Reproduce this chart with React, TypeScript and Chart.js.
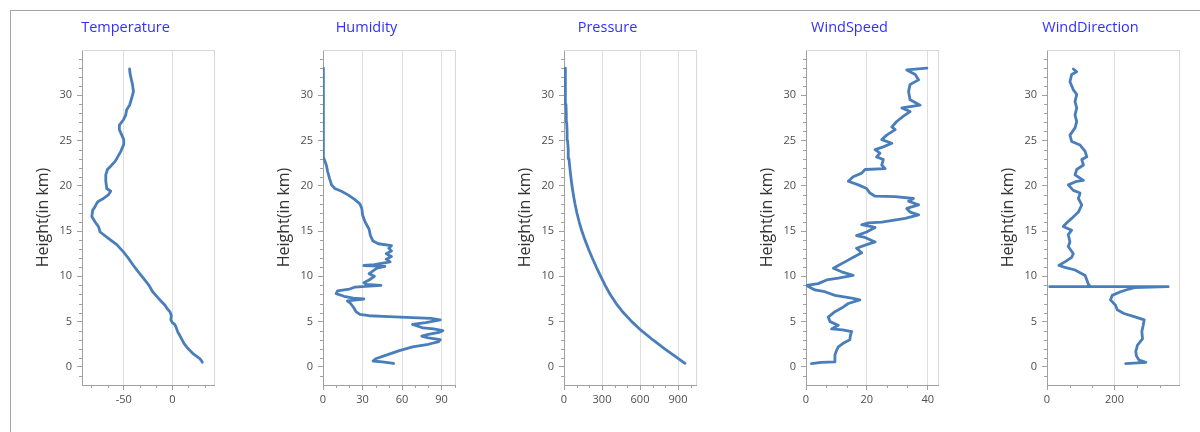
import React, { useEffect, useRef } from "react";
import { Chart, registerables } from "chart.js";

Chart.register(...registerables);

// ---------- data ----------
const panelTitles = ["Temperature", "Humidity", "Pressure", "WindSpeed", "WindDirection"];
const heightTicks = [0, 5, 10, 15, 20, 25, 30];
const heightRange = [-2, 35];

const tempHeight = [0.5, 0.7, 0.9, 1.4, 2.0, 2.6, 3.1, 3.6, 3.9, 4.4, 4.7, 4.9, 5.2, 5.7, 6.1, 6.4, 6.8, 7.2, 7.6, 8.3, 9.0, 9.8, 10.5, 11.2, 12.0, 12.7, 13.5, 14.2, 14.9, 15.5, 16.0, 16.6, 17.3, 17.7, 18.1, 18.3, 18.6, 19.0, 19.4, 19.7, 20.5, 21.2, 21.8, 22.1, 22.7, 23.2, 23.8, 24.5, 25.1, 25.6, 26.2, 26.7, 27.3, 27.8, 28.4, 28.9, 29.7, 30.4, 31.2, 31.9, 32.4, 32.9];
const tempValue = [31, 30, 28.4, 22, 16.4, 12, 9.6, 7, 5.5, 3.8, 2.5, 0, -1.5, -1, -2.5, -5, -7.5, -11, -14.4, -20.2, -24, -29.8, -35, -40, -45.2, -50.3, -57.2, -65.8, -74.3, -76, -79.5, -82.9, -82, -79.5, -77.7, -76, -70.9, -65.8, -63.4, -67.5, -68.5, -68.5, -66.8, -64, -58.9, -56.2, -53, -50.3, -50, -52, -54.5, -54.5, -50.3, -48, -47, -44, -41.8, -40, -41, -42.5, -43.5, -44];
const tempTicks = [-50, 0];

const humidityHeight = [0.38, 0.55, 0.65, 0.9, 1.3, 1.8, 2.2, 2.5, 2.8, 3.0, 3.2, 3.4, 3.6, 3.8, 4.0, 4.2, 4.3, 4.5, 4.7, 4.9, 5.1, 5.2, 5.35, 5.45, 5.55, 5.65, 5.8, 6.1, 6.5, 7.0, 7.3, 7.5, 7.6, 7.8, 8.1, 8.4, 8.6, 8.8, 9.0, 9.1, 9.3, 9.6, 10.0, 10.3, 10.6, 10.9, 11.1, 11.2, 11.3, 11.6, 11.9, 12.2, 12.5, 12.8, 13.1, 13.4, 13.6, 13.9, 14.5, 15.2, 16.0, 16.8, 17.5, 18.0, 18.5, 19.0, 19.4, 19.7, 20.1, 20.8, 21.6, 22.3, 22.9, 23.2, 33.0];
const humidityValue = [53.6, 45, 38, 40, 48, 58, 68, 80, 88, 89, 80, 75, 80, 88, 91, 84, 76, 72, 68, 78, 86, 89, 82, 68, 50, 35, 28, 25, 23.5, 21, 18.5, 31, 23, 16, 10, 11, 20, 24, 44, 33, 31, 35, 39, 35, 38, 41, 47, 31, 39, 51, 48, 52, 48, 52, 50, 52, 42, 38, 36, 35, 32, 30, 29.5, 28, 24, 19, 14, 9, 6.5, 5, 3.5, 2.5, 1, 0.3, 0.3];
const humidityTicks = [0, 30, 60, 90];

const pressureHeight = [0.4, 1, 2, 3, 4, 5, 6, 7, 8, 9, 10, 11, 12, 13, 14, 15, 16, 17, 18, 19, 20, 21, 22, 23, 24, 25, 26, 27, 28, 29, 30, 31, 32, 33];
const pressureValue = [955, 895, 795, 700, 612, 535, 468, 412, 365, 325, 290, 256, 224, 194, 166, 141, 120, 102, 87, 74, 63, 54, 46, 39, 33.5, 28.5, 24.5, 21, 18, 15.5, 13.3, 11.4, 9.8, 8.4];
const pressureTicks = [0, 300, 600, 900];

const windSpeedHeight = [0.37, 0.5, 0.55, 0.75, 1.3, 1.8, 2.2, 2.6, 3.0, 3.5, 3.9, 4.1, 4.2, 4.6, 5.0, 5.5, 6.1, 6.5, 7.0, 7.4, 7.6, 7.9, 8.3, 8.5, 9.0, 9.2, 9.6, 9.8, 10.1, 10.5, 10.9, 11.2, 11.6, 12.2, 12.6, 13.1, 13.5, 13.8, 14.3, 14.5, 14.9, 15.4, 15.7, 15.9, 16.0, 16.4, 16.8, 17.1, 17.5, 17.9, 18.3, 18.6, 18.8, 18.85, 19.2, 19.7, 20.1, 20.5, 21.0, 21.4, 21.8, 21.9, 22.3, 22.9, 23.2, 23.6, 24.0, 24.3, 24.7, 25.1, 25.6, 26.2, 26.5, 27.1, 27.7, 28.2, 28.6, 28.9, 29.5, 30.4, 31.2, 31.7, 32.3, 32.8, 33.0];
const windSpeedValue = [1.8, 5, 9.5, 9.5, 9.5, 10, 10.6, 12.2, 14.4, 14.6, 15, 12, 8.4, 10.6, 7.9, 7.3, 9.5, 11.7, 13.9, 17.7, 15, 9.5, 6.2, 2.9, 0.2, 4, 6.8, 10.6, 15.5, 11.7, 9, 10.6, 12.8, 16, 18.3, 16.6, 19.9, 22.7, 19.4, 16.6, 19.9, 22.7, 18.3, 20.5, 24.9, 32.6, 37, 34.2, 33.1, 37, 33.7, 35.3, 29.3, 22.7, 21, 19.9, 17.2, 13.9, 15.5, 18.3, 19.4, 26, 24.9, 25.4, 23.2, 24.3, 22.7, 25.4, 28.2, 24.9, 26.5, 29.3, 28.2, 29.8, 32, 34.2, 31.5, 37.5, 34.2, 33.7, 34.2, 37, 35.9, 33.1, 39.7];
const windSpeedTicks = [0, 20, 40];

const windDirHeight = [0.37, 0.5, 0.74, 1.2, 1.7, 2.4, 3.1, 3.9, 4.6, 5.2, 5.5, 5.9, 6.3, 6.8, 7.4, 7.9, 8.3, 8.6, 8.75, 8.86, 8.86, 8.9, 9.1, 9.6, 10.1, 10.7, 11.0, 11.2, 11.6, 12.1, 12.5, 13.3, 13.8, 14.6, 15.1, 15.5, 15.9, 16.4, 17.1, 17.9, 18.6, 19.2, 19.5, 20.1, 20.5, 20.6, 21.2, 21.8, 22.3, 22.9, 23.2, 23.8, 24.5, 24.9, 25.6, 26.4, 27.1, 27.8, 28.6, 29.3, 30.1, 30.6, 31.5, 32.3, 32.6, 32.9];
const windDirValue = [233, 293, 273, 265, 263, 268, 283, 281, 285, 288, 263, 228, 208, 203, 188, 193, 218, 243, 258, 359, 8, 128, 123, 118, 113, 83, 53, 35, 53, 73, 78, 63, 68, 63, 73, 48, 58, 73, 93, 103, 93, 98, 78, 63, 88, 108, 83, 88, 108, 103, 118, 113, 98, 73, 68, 83, 88, 83, 88, 83, 88, 78, 68, 73, 88, 78];
const windDirTicks = [0, 200];

// ---------- styling / layout ----------
const FONT = "'Open Sans', 'DejaVu Sans', sans-serif";
const LINE_COLOR = "#4a7ebb";
const TITLE_COLOR = "#3030ff";
const AXIS_COLOR = "#a0a0a0";
const FRAME_COLOR = "#d8d8d8";
const GRID_COLOR = "#dedede";
const LABEL_COLOR = "#4d4d4d";

const PLOT_W = 133;
const Y_AXIS_W = 46;
const X_AXIS_H = 47;

type PanelDef = {
  title: string;
  heights: number[];
  values: number[];
  ticks: number[];
  min: number;
  max: number;
  plotLeft: number;
};

const panels: PanelDef[] = [
  { title: panelTitles[0], heights: tempHeight, values: tempValue, ticks: tempTicks, min: -93, max: 44, plotLeft: 82 },
  { title: panelTitles[1], heights: humidityHeight, values: humidityValue, ticks: humidityTicks, min: 0, max: 101, plotLeft: 323 },
  { title: panelTitles[2], heights: pressureHeight, values: pressureValue, ticks: pressureTicks, min: 0, max: 1050, plotLeft: 564 },
  { title: panelTitles[3], heights: windSpeedHeight, values: windSpeedValue, ticks: windSpeedTicks, min: 0, max: 43.7, plotLeft: 806 },
  { title: panelTitles[4], heights: windDirHeight, values: windDirValue, ticks: windDirTicks, min: 0, max: 394, plotLeft: 1047 },
];

function Panel({ def }: { def: PanelDef }) {
  const ref = useRef<HTMLCanvasElement | null>(null);
  useEffect(() => {
    const canvas = ref.current;
    if (!canvas) return;
    const minorStep = (def.ticks[1] - def.ticks[0]) / 3;

    const decorPlugin = {
      id: "decor",
      beforeDatasetsDraw(chart: any) {
        const { ctx, chartArea } = chart;
        ctx.save();
        ctx.strokeStyle = FRAME_COLOR;
        ctx.lineWidth = 1;
        ctx.beginPath();
        ctx.moveTo(chartArea.left, Math.round(chartArea.top) + 0.5);
        ctx.lineTo(chartArea.right, Math.round(chartArea.top) + 0.5);
        ctx.moveTo(Math.round(chartArea.right) - 0.5, chartArea.top);
        ctx.lineTo(Math.round(chartArea.right) - 0.5, chartArea.bottom);
        ctx.stroke();
        ctx.restore();
      },
      afterDraw(chart: any) {
        const { ctx, chartArea, scales } = chart;
        ctx.save();
        ctx.strokeStyle = AXIS_COLOR;
        ctx.lineWidth = 1;
        ctx.beginPath();
        const xs = scales.x;
        const start = Math.ceil((xs.min - 1e-9) / minorStep);
        const end = Math.floor((xs.max + 1e-9) / minorStep);
        for (let k = start; k <= end; k++) {
          if (k % 3 === 0) continue;
          const px = Math.round(xs.getPixelForValue(k * minorStep)) + 0.5;
          ctx.moveTo(px, chartArea.bottom);
          ctx.lineTo(px, chartArea.bottom + 3);
        }
        const ys = scales.y;
        for (let v = Math.ceil(ys.min + 0.5); v < ys.max; v++) {
          if (v % 5 === 0) continue;
          const py = Math.round(ys.getPixelForValue(v)) + 0.5;
          ctx.moveTo(chartArea.left - 3, py);
          ctx.lineTo(chartArea.left, py);
        }
        ctx.stroke();
        ctx.restore();
      },
    };

    const chart = new Chart(canvas, {
      type: "scatter",
      data: {
        datasets: [
          {
            data: def.heights.map((h, i) => ({ x: def.values[i], y: h })),
            showLine: true,
            borderColor: LINE_COLOR,
            backgroundColor: LINE_COLOR,
            borderWidth: 2.8,
            pointRadius: 0,
            pointHoverRadius: 0,
            tension: 0,
            borderJoinStyle: "round",
            borderCapStyle: "round",
          } as any,
        ],
      },
      options: {
        animation: false,
        responsive: false,
        maintainAspectRatio: false,
        events: [],
        layout: { padding: { left: 0, right: 0, top: 0, bottom: 0 } },
        plugins: {
          legend: { display: false },
          tooltip: { enabled: false },
          title: {
            display: true,
            text: def.title,
            color: TITLE_COLOR,
            font: { family: FONT, size: 14.5, weight: "normal", lineHeight: 1.2 },
            padding: { top: 18.8, bottom: 13.8 },
          },
        },
        scales: {
          x: {
            type: "linear",
            min: def.min,
            max: def.max,
            afterBuildTicks: (s: any) => {
              s.ticks = def.ticks.map((v) => ({ value: v }));
            },
            afterFit: (s: any) => {
              s.height = X_AXIS_H;
            },
            grid: {
              display: true,
              drawOnChartArea: true,
              color: GRID_COLOR,
              tickColor: AXIS_COLOR,
              tickLength: 5,
              lineWidth: 1,
            },
            border: { display: true, color: AXIS_COLOR, width: 1 },
            ticks: {
              color: LABEL_COLOR,
              font: { family: FONT, size: 11 },
              padding: 3,
              maxRotation: 0,
              autoSkip: false,
              callback: (v: any) => String(v),
            },
          },
          y: {
            type: "linear",
            min: heightRange[0],
            max: heightRange[1],
            afterBuildTicks: (s: any) => {
              s.ticks = heightTicks.map((v) => ({ value: v }));
            },
            afterFit: (s: any) => {
              s.width = Y_AXIS_W;
            },
            grid: {
              display: true,
              drawOnChartArea: false,
              tickColor: AXIS_COLOR,
              tickLength: 5,
            },
            border: { display: true, color: AXIS_COLOR, width: 1 },
            ticks: {
              color: LABEL_COLOR,
              font: { family: FONT, size: 11 },
              padding: 5,
              autoSkip: false,
              callback: (v: any) => String(v),
            },
            title: {
              display: true,
              text: "Height(in km)",
              color: "#333333",
              font: { family: FONT, size: 16, lineHeight: 1.2 },
              padding: { top: -2.1, bottom: 0 },
            },
          },
        },
      },
      plugins: [decorPlugin],
    });
    return () => chart.destroy();
  }, [def]);

  const width = Y_AXIS_W + PLOT_W;
  return (
    <canvas
      ref={ref}
      width={width}
      height={432}
      style={{ position: "absolute", left: def.plotLeft - Y_AXIS_W, top: 0, width, height: 432 }}
    />
  );
}

export default function App() {
  return (
    <div
      style={{
        position: "absolute",
        left: 0,
        top: 0,
        width: 1200,
        height: 432,
        overflow: "hidden",
        background: "#ffffff",
      }}
    >
      <div
        style={{
          position: "absolute",
          left: 10,
          top: 10,
          width: 1300,
          height: 600,
          borderTop: "1px solid #a3a3b3",
          borderLeft: "1px solid #a3a3b3",
        }}
      />
      {panels.map((p) => (
        <Panel key={p.title} def={p} />
      ))}
    </div>
  );
}
